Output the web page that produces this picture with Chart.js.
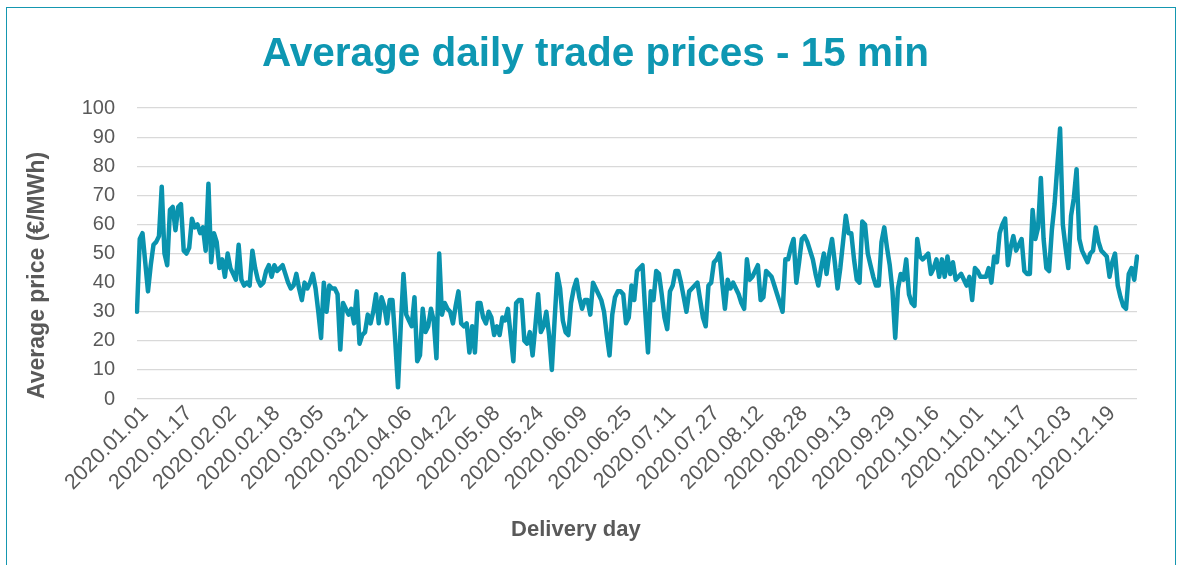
<!DOCTYPE html>
<html>
<head>
<meta charset="utf-8">
<script src="https://cdn.jsdelivr.net/npm/chart.js@4.4.1/dist/chart.umd.min.js"></script>
<style>
  html, body { margin: 0; padding: 0; background: #fff; }
  #frame { position: absolute; left: 6px; top: 7px; width: 1168px; height: 600px; border: 1px solid #1597b0; }
  #priceChart { position: absolute; left: 0; top: 0; }
</style>
</head>
<body>
<div id="frame"></div>
<canvas id="priceChart" width="1181" height="565"></canvas>
<script>
// daily average prices (€/MWh), one array per month
const jan = [30,55,57,47,37,46,53,54,56,73,50,46,65,66,58,66,67,51,50,52,62,59,60,57,59,51,74,47,57,54,45];
const feb = [48,42,50,45,43,41,53,41,39,40,39,51,45,41,39,40,44,46,42,46,44,45,46,43,40,38,39,43,38];
const mar = [34,40,38,40,43,38,30,21,40,30,39,38,38,36,17,33,31,29,31,26,37,19,22,23,29,26,30,36,26,35,32];
const apr = [26,34,34,20,4,25,43,29,27,25,35,13,15,31,23,25,31,27,14,50,29,33,31,30,26,32,37,26,25,26];
const may = [16,25,16,33,33,28,26,30,28,22,25,22,28,27,31,22,13,33,34,34,20,19,23,15,25,36,23,25,30,22,10];
const jun = [27,43,38,27,23,22,33,38,41,35,31,34,34,29,40,38,36,34,30,22,15,29,35,37,37,36,26,28,39,34];
const jul = [44,45,46,30,16,37,34,44,43,36,28,24,37,39,44,44,40,35,30,37,38,39,40,34,28,25,39,40,47,48,50];
const aug = [40,31,41,38,40,38,36,33,31,48,41,42,44,46,34,35,44,43,42,39,36,33,30,48,48,52,55,40,47,55,56];
const sep = [54,51,48,43,39,45,50,43,50,55,47,38,45,54,63,57,57,48,41,40,61,60,50,46,42,39,39,54,59,52];
const oct = [46,37,21,38,43,41,48,36,33,32,55,49,48,49,50,43,45,48,42,48,42,49,43,47,41,42,43,41,39,42];
const nov = [34,45,44,42,42,42,45,40,49,47,57,60,62,46,52,56,51,53,55,44,43,43,65,55,59,76,55,45,44,58];
const dec = [67,80,93,60,52,45,63,69,79,55,51,49,47,50,51,59,54,51,50,49,42,47,50,39,35,32,31,43,45,41,49];

const monthData = [jan, feb, mar, apr, may, jun, jul, aug, sep, oct, nov, dec];
const missingDay = '2020.10.05'; // the source has one day fewer in October
const labelStep = 16;
const yTicks = { min: 0, max: 100, step: 10 };

// category labels: 2020.MM.DD for each day that has a value
const days = [];
const prices = [];
monthData.forEach((vals, m) => {
  let d = 1;
  vals.forEach(v => {
    let lbl = '2020.' + String(m + 1).padStart(2, '0') + '.' + String(d).padStart(2, '0');
    if (lbl === missingDay) {
      d++;
      lbl = '2020.' + String(m + 1).padStart(2, '0') + '.' + String(d).padStart(2, '0');
    }
    days.push(lbl);
    prices.push(v);
    d++;
  });
});

const teal = '#0a93ae';
const grey = '#595959';
const fontFam = '"Liberation Sans", Arial, sans-serif';

new Chart(document.getElementById('priceChart'), {
  type: 'line',
  data: {
    labels: days,
    datasets: [{
      data: prices,
      borderColor: teal,
      borderWidth: 4.5,
      borderJoinStyle: 'round',
      borderCapStyle: 'round',
      pointRadius: 0,
      tension: 0,
      fill: false
    }]
  },
  options: {
    responsive: false,
    animation: false,
    devicePixelRatio: 1,
    layout: { padding: { left: 16, right: 6, top: 0, bottom: 18 } },
    plugins: {
      legend: { display: false },
      tooltip: { enabled: false },
      title: {
        display: true,
        text: 'Average daily trade prices - 15 min',
        color: '#0e97b2',
        font: { family: fontFam, size: 40.5, weight: 'bold' },
        padding: { top: 31, bottom: 28.5 }
      }
    },
    scales: {
      x: {
        offset: false,
        grid: { display: false },
        border: { display: false },
        ticks: {
          autoSkip: false,
          maxRotation: 45,
          minRotation: 45,
          padding: -6,
          labelOffset: 8,
          color: grey,
          font: { family: fontFam, size: 21.5 },
          callback: function (val, i) {
            return i % labelStep === 0 ? this.getLabelForValue(val) : null;
          }
        },
        title: {
          display: true,
          // trailing spaces pull the centred title left, as in the source
          text: 'Delivery day' + ' '.repeat(20),
          color: grey,
          font: { family: fontFam, size: 22, weight: 'bold' },
          padding: 4
        },
        afterFit: s => { s.height = 148; }
      },
      y: {
        min: yTicks.min,
        max: yTicks.max,
        grid: { color: '#d9d9d9', lineWidth: 1.3, drawTicks: false },
        border: { display: false },
        ticks: {
          stepSize: yTicks.step,
          padding: 22,
          color: grey,
          font: { family: fontFam, size: 20 }
        },
        title: {
          display: true,
          text: 'Average price (€/MWh)',
          align: 'start',
          color: grey,
          font: { family: fontFam, size: 23, weight: 'bold' },
          padding: 8
        },
        afterFit: s => { s.width = 121; }
      },
      // empty right-hand axis only reserves space so the title centres like the source
      yRight: {
        position: 'right',
        display: true,
        grid: { display: false },
        border: { display: false },
        ticks: { display: false },
        afterFit: s => { s.width = 38; }
      }
    }
  }
});
</script>
</body>
</html>
